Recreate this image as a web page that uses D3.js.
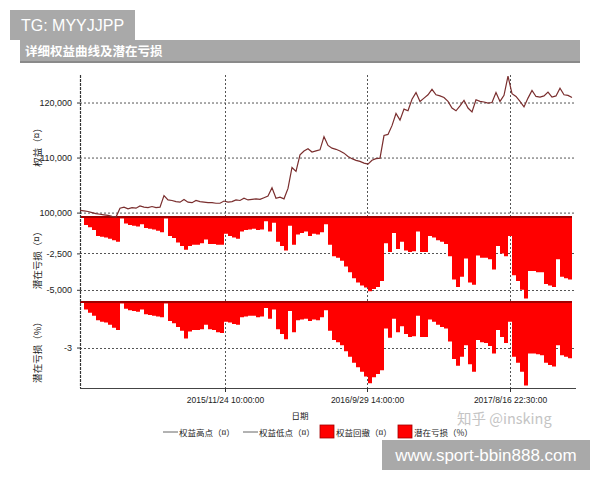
<!DOCTYPE html>
<html><head><meta charset="utf-8">
<script src="https://cdn.jsdelivr.net/npm/d3@7"></script>
<style>
body{margin:0;background:#fff;}
svg{display:block;font-family:"Liberation Sans","Noto Sans CJK SC",sans-serif;}
</style></head>
<body><svg id="c" width="600" height="480"></svg>
<script>
// equity (权益) sampled along the trading-bar index
const equity = [100400,100300,100200,100000,99800,99700,99600,99500,99300,99200,
100800,101000,100700,100900,100800,101200,101000,100900,101100,100900,
101000,103100,102300,102200,102000,101900,102400,101900,101800,102200,
102000,101900,101800,101800,101700,101700,102100,101900,102000,102300,
102200,102600,102300,102400,102500,102400,102700,103000,104500,102600,
102800,102500,104400,108200,107500,110500,111200,111600,111000,111200,
111400,113800,112200,111700,111500,111200,110800,110200,109800,109500,
109300,109000,108800,109500,109800,109900,114000,114200,115800,118000,
116800,118800,118500,120600,121800,120200,120800,121400,122400,121400,
121200,120900,120200,119000,118500,119400,120400,119000,118300,120500,
120200,120100,119900,120000,121800,120200,121300,124800,121600,121100,
120200,119200,120800,122200,121100,121000,121200,121900,121000,121200,
122600,121400,121300,120900];
// 潜在亏损 (money)
const drawdown = [0,-550,-700,-900,-1300,-1350,-1400,-1500,-1600,-1700,
-100,-450,-550,-600,-650,-500,-750,-800,-850,-950,
-1050,-100,-1300,-1450,-1750,-2000,-2250,-2000,-1900,-1900,
-1800,-1550,-1850,-1850,-1900,-1900,-1150,-1300,-1400,-1500,
-1000,-900,-850,-800,-900,-850,-300,-1000,-400,-1700,
-2000,-2300,-600,-1900,-1200,-1100,-1000,-1300,-1150,-1200,
-1050,-500,-1900,-2700,-2800,-3000,-3400,-3800,-4200,-4500,
-4700,-4850,-5100,-4950,-4800,-4400,-1800,-2400,-1100,-2200,
-1700,-2300,-2400,-2350,-1000,-2400,-2400,-1300,-1400,-1600,
-1700,-1850,-2700,-4300,-4800,-4100,-2850,-4500,-4650,-2650,
-2800,-2800,-2900,-3600,-2000,-2500,-2700,-1300,-4000,-4400,
-5000,-5600,-3700,-3700,-3800,-3800,-4600,-4700,-4800,-2900,
-4100,-4200,-4300,-4450];
// 潜在亏损 (%)
const drawdownPct = [0,-0.5,-0.7,-0.9,-1.2,-1.3,-1.35,-1.5,-1.7,-1.85,
-0.1,-0.45,-0.55,-0.6,-0.65,-0.5,-0.8,-0.85,-0.9,-0.95,
-1.0,-0.1,-1.25,-1.4,-1.65,-1.9,-2.4,-1.95,-1.85,-1.85,
-1.8,-1.5,-1.8,-1.85,-2.0,-2.05,-1.3,-1.35,-1.45,-1.5,
-1.0,-0.95,-0.9,-0.9,-1.0,-0.95,-0.4,-1.1,-0.5,-1.8,
-2.1,-2.45,-0.6,-2.0,-1.2,-1.15,-1.1,-1.25,-1.15,-1.2,
-1.0,-0.55,-1.9,-2.5,-2.65,-2.85,-3.25,-3.6,-4.0,-4.3,
-4.6,-4.9,-5.35,-4.95,-4.75,-4.5,-1.75,-2.35,-1.1,-2.0,
-1.6,-2.1,-2.3,-2.25,-0.9,-2.3,-2.3,-1.15,-1.3,-1.5,
-1.65,-1.75,-2.6,-3.75,-4.2,-3.6,-2.85,-4.1,-4.6,-2.5,
-2.65,-2.7,-2.9,-3.4,-1.85,-2.3,-2.7,-1.3,-3.6,-4.0,
-4.6,-5.5,-3.4,-3.4,-3.45,-3.5,-4.0,-4.15,-4.25,-2.85,
-3.5,-3.6,-3.7,-3.85];
const xTickPos = [36.25, 71.75, 107.5];
const xTickLabels = ["2015/11/24 10:00:00","2016/9/29 14:00:00","2017/8/16 22:30:00"];
const eqTicks = [100000,110000,120000];
const ddTicks = [-2500,-5000];
const pctTicks = [-3];
const legendItems = [
  {label:"权益高点（¤）", type:"line"},
  {label:"权益低点（¤）", type:"line"},
  {label:"权益回撤（¤）", type:"box"},
  {label:"潜在亏损（%）", type:"box"}
];

const svg = d3.select("#c");
const L = 80, R = 576, T = 75, B = 388;
const x = d3.scaleLinear().domain([0,124]).range([L,R]);
const yE = d3.scaleLinear().domain([99200,125000]).range([217,T]);
const yD = d3.scaleLinear().domain([-5700,0]).range([300,217]);
const yP = d3.scaleLinear().domain([-5.6,0]).range([387,302]);
const fmt = d => d3.format(",")(d).replace("\u2212","-");
const gridC = "#555";

// header boxes
svg.append("rect").attr("x",10).attr("y",10).attr("width",125).attr("height",30).attr("fill","#a9a9a9");
svg.append("text").attr("x",21).attr("y",31).attr("fill","#fff").attr("font-size",16)
  .attr("font-family","Liberation Sans, Arial, sans-serif").text("TG: MYYJJPP");
svg.append("rect").attr("x",20).attr("y",40).attr("width",560).attr("height",22).attr("fill","#a8a8a8");
svg.append("rect").attr("x",20).attr("y",61).attr("width",560).attr("height",2).attr("fill","#8a8a8a");
svg.append("text").attr("x",25).attr("y",56).attr("fill","#fff").attr("font-size",12.5).attr("font-weight","bold")
  .attr("font-family","Noto Sans CJK SC, sans-serif").text("详细权益曲线及潜在亏损");

// grid
const grid = svg.append("g").attr("stroke",gridC).attr("stroke-dasharray","2,2").attr("stroke-width",1);
eqTicks.forEach(v=>grid.append("line").attr("x1",L).attr("x2",R).attr("y1",yE(v)+0.5).attr("y2",yE(v)+0.5));
ddTicks.forEach(v=>grid.append("line").attr("x1",L).attr("x2",R).attr("y1",Math.round(yD(v))+0.5).attr("y2",Math.round(yD(v))+0.5));
pctTicks.forEach(v=>grid.append("line").attr("x1",L).attr("x2",R).attr("y1",Math.round(yP(v))+0.5).attr("y2",Math.round(yP(v))+0.5));
xTickPos.forEach(v=>grid.append("line").attr("x1",Math.round(x(v))+0.5).attr("x2",Math.round(x(v))+0.5).attr("y1",T).attr("y2",B));

// drawdown areas
const areaD = d3.area().x((d,i)=>x(i)).y0(yD(0)).y1(d=>yD(d)).curve(d3.curveStepAfter);
const areaP = d3.area().x((d,i)=>x(i)).y0(yP(0)).y1(d=>yP(d)).curve(d3.curveStepAfter);
svg.append("path").datum(drawdown).attr("d",areaD).attr("fill","#ff0000");
svg.append("path").datum(drawdownPct).attr("d",areaP).attr("fill","#ff0000");
svg.append("line").attr("x1",L).attr("x2",x(drawdown.length-1)).attr("y1",yD(0)).attr("y2",yD(0)).attr("stroke","#a00000").attr("stroke-width",2);
svg.append("line").attr("x1",L).attr("x2",x(drawdownPct.length-1)).attr("y1",yP(0)).attr("y2",yP(0)).attr("stroke","#a00000").attr("stroke-width",2);

// equity line
const lineE = d3.line().x((d,i)=>x(i)).y(d=>yE(d));
svg.append("path").datum(equity).attr("d",lineE).attr("fill","none").attr("stroke","#7a2e2e").attr("stroke-width",1.2);

// left axes
const tickFont = "Liberation Sans, Arial, sans-serif";
function leftAxis(scale, ticks, f){
  const g = svg.append("g").attr("transform",`translate(${L},0)`)
    .call(d3.axisLeft(scale).tickValues(ticks).tickSize(3).tickPadding(5).tickFormat(f));
  g.select(".domain").remove();
  g.selectAll("line").attr("stroke","#333");
  g.selectAll("text").attr("font-size",9).attr("font-family",tickFont).attr("fill","#222");
}
leftAxis(yE, eqTicks, fmt);
leftAxis(yD, ddTicks, fmt);
leftAxis(yP, pctTicks, d=>String(d));
svg.append("line").attr("x1",L+0.5).attr("x2",L+0.5).attr("y1",T).attr("y2",B)
  .attr("stroke","#333").attr("stroke-width",1.2).attr("stroke-dasharray","3,1");

// bottom axis
const gx = svg.append("g").attr("transform",`translate(0,${B})`)
  .call(d3.axisBottom(x).tickValues(xTickPos).tickSize(4).tickPadding(5).tickFormat((d,i)=>xTickLabels[i]));
gx.select(".domain").attr("stroke","#444").attr("d",`M${L},0.5H${R}`);
gx.selectAll("line").attr("stroke","#333");
gx.selectAll("text").attr("font-size",8.5).attr("font-family",tickFont).attr("fill","#222");

// axis titles
const cjk = "Noto Sans CJK SC, sans-serif";
[["权益（¤）",145],["潜在亏损（¤）",258],["潜在亏损（%）",350]].forEach(([t,cy])=>{
  svg.append("text").attr("transform",`translate(41,${cy}) rotate(-90)`).attr("text-anchor","middle")
    .attr("font-size",9.5).attr("font-family",cjk).attr("fill","#222").text(t);
});
svg.append("text").attr("x",300).attr("y",419).attr("text-anchor","middle").attr("font-size",8.5)
  .attr("font-family",cjk).attr("fill","#222").text("日期");

// legend
const legX = [163,243,320,398];
legendItems.forEach((it,i)=>{
  const g = svg.append("g").attr("transform",`translate(${legX[i]},432)`);
  if(it.type==="line"){
    g.append("line").attr("x1",0).attr("x2",15).attr("y1",0).attr("y2",0).attr("stroke","#666").attr("stroke-width",1);
    g.append("text").attr("x",16).attr("y",3.5).attr("font-size",8.5).attr("font-family",cjk).attr("fill","#222").text(it.label);
  } else {
    g.append("rect").attr("x",0).attr("y",-7).attr("width",14).attr("height",13).attr("fill","#ff0000").attr("stroke","#a00000").attr("stroke-width",0.8);
    g.append("text").attr("x",16).attr("y",3.5).attr("font-size",8.5).attr("font-family",cjk).attr("fill","#222").text(it.label);
  }
});

// watermarks
svg.append("text").attr("x",457).attr("y",424).attr("font-size",14.5).attr("font-family",cjk)
  .attr("fill","#c4c4c4").text("知乎 @insking");
svg.append("rect").attr("x",382).attr("y",440).attr("width",208).attr("height",30).attr("fill","#a9a9a9");
svg.append("text").attr("x",486).attr("y",461).attr("text-anchor","middle").attr("font-size",17)
  .attr("font-family","Liberation Sans, Arial, sans-serif").attr("fill","#fff").text("www.sport-bbin888.com");
</script></body></html>
